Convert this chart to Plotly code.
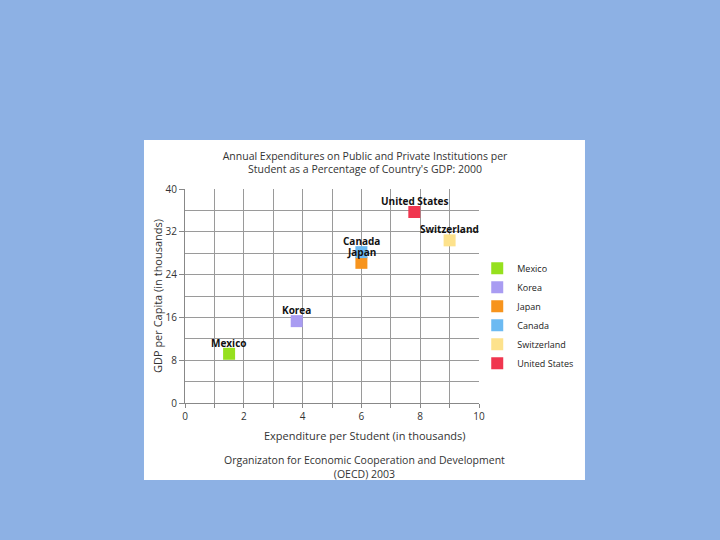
import plotly.graph_objects as go

countries = ["Mexico", "Korea", "Japan", "Canada", "Switzerland", "United States"]
expenditure = [1.5, 3.8, 6.0, 6.0, 9.0, 7.8]
gdp = [9.2, 15.3, 26.2, 28.2, 30.4, 35.7]
colors = ["#96e01e", "#a99cf2", "#f7941d", "#6cbaf2", "#fde28c", "#f0364f"]

x_ticks = [0, 2, 4, 6, 8, 10]
y_ticks = [0, 8, 16, 24, 32, 40]

FONT = "Open Sans"
fig = go.Figure()

for name, xv, yv, c in zip(countries, expenditure, gdp, colors):
    fig.add_trace(go.Scatter(
        x=[xv], y=[yv], mode="markers", name=name,
        marker=dict(symbol="square", size=12, color=c),
    ))

for name, xv, yv in zip(countries, expenditure, gdp):
    fig.add_annotation(x=xv, y=yv, text="<b>%s</b>" % name, showarrow=False,
                       xanchor="center", yanchor="middle", yshift=11,
                       font=dict(family=FONT, size=10, color="#111111"))

# white panel behind chart
fig.add_shape(type="rect", xref="paper", yref="paper",
              x0=-0.1395, x1=1.3605, y0=-0.36, y1=1.229,
              fillcolor="white", line=dict(width=0), layer="below")

fig.add_annotation(xref="paper", yref="paper", x=-0.095, y=0.5,
                   xanchor="center", yanchor="middle",
                   text="GDP per Capita (in thousands)", textangle=-90,
                   showarrow=False, font=dict(family=FONT, size=11, color="#333333"))
fig.add_annotation(xref="paper", yref="paper", x=0.612, y=-0.15,
                   xanchor="center", yanchor="middle",
                   text="Expenditure per Student (in thousands)",
                   showarrow=False, font=dict(family=FONT, size=11, color="#333333"))
fig.add_annotation(xref="paper", yref="paper", x=0.612, y=-0.297,
                   xanchor="center", yanchor="middle",
                   text="Organizaton for Economic Cooperation and Development<br>(OECD) 2003",
                   showarrow=False, font=dict(family=FONT, size=10.5, color="#333333"))

fig.update_layout(
    width=720, height=540,
    paper_bgcolor="#8db1e4", plot_bgcolor="white",
    margin=dict(l=185, r=241, t=189, b=137),
    title=dict(text="Annual Expenditures on Public and Private Institutions per<br>Student as a Percentage of Country's GDP: 2000",
               x=0.507, xref="container", xanchor="center",
               y=0.704, yref="container", yanchor="middle",
               font=dict(family=FONT, size=10.5, color="#333333")),
    legend=dict(x=0.994, xanchor="left", y=0.698, yanchor="top",
                font=dict(family=FONT, size=9, color="#222222"),
                bgcolor="rgba(0,0,0,0)", tracegroupgap=0, itemsizing="constant"),
    xaxis=dict(range=[0, 10], tickvals=x_ticks, ticks="outside", ticklen=4,
               tickcolor="#888888", showline=True, linecolor="#888888",
               gridcolor="#9a9a9a", zeroline=False, mirror=False,
               minor=dict(dtick=1, showgrid=True, gridcolor="#9a9a9a", ticks="outside", ticklen=4, tickcolor="#888888"),
               tickfont=dict(family=FONT, size=10, color="#333333")),
    yaxis=dict(range=[0, 40], tickvals=y_ticks, ticks="outside", ticklen=5,
               tickcolor="#888888", showline=True, linecolor="#888888",
               gridcolor="#9a9a9a", zeroline=False,
               minor=dict(dtick=4, showgrid=True, gridcolor="#9a9a9a"),
               tickfont=dict(family=FONT, size=10, color="#333333")),
    showlegend=True,
)

fig.write_html("out.html", config={"displayModeBar": False},
               post_script="document.body.style.margin='0';document.body.style.overflow='hidden';")
